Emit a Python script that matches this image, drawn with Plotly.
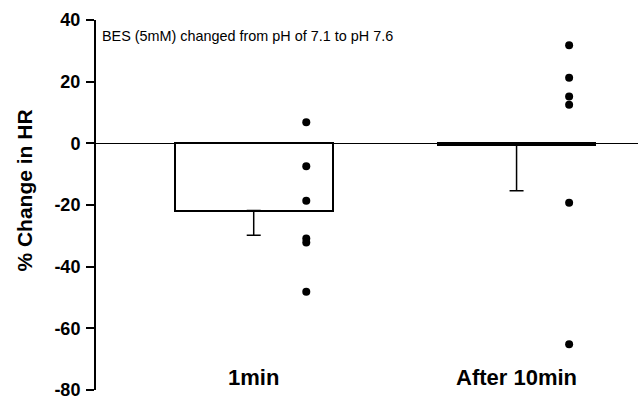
import plotly.graph_objects as go

categories = ["1min", "After 10min"]
bar_means = [-21.8, -0.5]
err_minus = [8.0, 14.9]
points_1min = [6.8, -7.4, -18.6, -30.9, -32.2, -48.1]
points_10min = [31.8, 21.3, 15.2, 12.5, -19.3, -65.2]
y_ticks = [-80, -60, -40, -20, 0, 20, 40]
note = "BES (5mM) changed from pH of 7.1 to pH 7.6"
y_title = "% Change in HR"

FONT = "Liberation Sans, Arial, sans-serif"
pos = list(range(len(categories)))
fig = go.Figure()
fig.add_trace(go.Bar(
    x=pos, y=bar_means, width=0.6,
    marker=dict(color="white", line=dict(color="black", width=2)),
    error_y=dict(type="data", symmetric=False, array=[0] * len(bar_means),
                 arrayminus=err_minus, color="black", thickness=1.5, width=7),
    showlegend=False, hoverinfo="skip"))
for i, pts in enumerate([points_1min, points_10min]):
    fig.add_trace(go.Scatter(
        x=[pos[i] + 0.2] * len(pts), y=pts, mode="markers",
        marker=dict(color="black", size=8), showlegend=False))

for i, c in enumerate(categories):
    fig.add_annotation(x=pos[i], y=-76, xref="x", yref="y", text="<b>%s</b>" % c,
                       showarrow=False, font=dict(family=FONT, size=22, color="black"))
fig.add_annotation(x=0.008, y=0.957, xref="paper", yref="paper", text=note,
                   xanchor="left", yanchor="middle", showarrow=False,
                   font=dict(family=FONT, size=14.4, color="black"))
fig.add_annotation(x=-0.131, y=0.539, xref="paper", yref="paper", text="<b>%s</b>" % y_title,
                   textangle=-90, showarrow=False, xanchor="center", yanchor="middle",
                   font=dict(family=FONT, size=21, color="black"))

fig.update_layout(
    width=638, height=400, margin=dict(l=96, r=0, t=20, b=7),
    paper_bgcolor="white", plot_bgcolor="white", bargap=0,
    font=dict(family=FONT, color="black"),
    xaxis=dict(range=[-0.6, 1.462], visible=False),
    yaxis=dict(range=[-80, 40], tickvals=y_ticks, ticktext=["<b>%d</b>" % v for v in y_ticks],
               showline=True, linecolor="black", linewidth=2,
               ticks="outside", ticklen=8, tickwidth=2, tickcolor="black",
               ticklabeloverflow="allow", ticklabelstandoff=2,
               showgrid=False, zeroline=True, zerolinecolor="black", zerolinewidth=1.2,
               tickfont=dict(family=FONT, size=18, color="black")),
)
fig.write_html("out.html")
